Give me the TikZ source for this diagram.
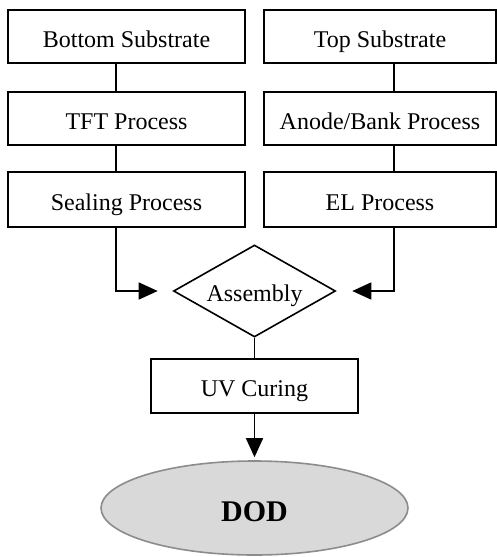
\documentclass[tikz,border=0pt]{standalone}
\usepackage{fontspec}
\setmainfont{Liberation Serif}
\usetikzlibrary{arrows.meta, positioning, shapes.geometric}

\begin{document}
\begin{tikzpicture}[x=1pt, y=-1pt,
    box/.style={draw, line width=1.6pt, minimum width=237pt, minimum height=53pt, inner sep=0pt, text height=21.5pt, text depth=0pt, font=\fontsize{24}{28}\selectfont},
    link/.style={line width=1.6pt},
    flow/.style={line width=1.6pt, -{Triangle[length=19pt, width=17pt]}}
]
\useasboundingbox (0,0) rectangle (497,557);

% Bottom substrate column
\node[box] (bottomsub) at (126.5,36.5) {Bottom Substrate};
\node[box] (tft) at (126.5,118.5) {TFT Process};
\node[box, minimum height=55pt] (sealing) at (126.5,199.5) {Sealing Process};

% Top substrate column
\node[box, minimum width=232pt] (topsub) at (380,36.5) {Top Substrate};
\node[box, minimum width=232pt] (anode) at (380,118.5) {Anode/Bank Process};
\node[box, minimum width=232pt, minimum height=55pt] (elproc) at (380,199.5) {EL Process};

% Links inside each column (a bit off centre)
\draw[link] ([xshift=-10.5pt]bottomsub.south) -- ([xshift=-10.5pt]tft.north);
\draw[link] ([xshift=-10.5pt]tft.south) -- ([xshift=-10.5pt]sealing.north);
\draw[link] ([xshift=14pt]topsub.south) -- ([xshift=14pt]anode.north);
\draw[link] ([xshift=14pt]anode.south) -- ([xshift=14pt]elproc.north);

% Assembly step
\node[draw, diamond, link, aspect=1.76, minimum width=162pt, minimum height=92pt, inner sep=0pt, text height=20pt, text depth=0pt, font=\fontsize{24}{28}\selectfont] (assembly) at (254.5,291) {Assembly};

\draw[flow, shorten >=15pt] ([xshift=-10.5pt]sealing.south) |- (assembly.west);
\draw[flow, shorten >=16pt] ([xshift=14pt]elproc.south) |- (assembly.east);

% Curing and final result
\node[box, minimum width=207pt, minimum height=54pt] (uvcuring) at (254.5,386) {UV Curing};
\node[ellipse, draw=gray!90, fill=gray!30, line width=1.6pt, minimum width=307pt, minimum height=94pt, inner sep=0pt, text height=27pt, text depth=0pt, font=\fontsize{30}{34}\selectfont\bfseries] (dod) at (254.5,508) {DOD};

\draw[link] (assembly.south) -- (uvcuring.north);
\draw[flow, shorten >=3pt] (uvcuring.south) -- (dod.north);

\end{tikzpicture}
\end{document}
